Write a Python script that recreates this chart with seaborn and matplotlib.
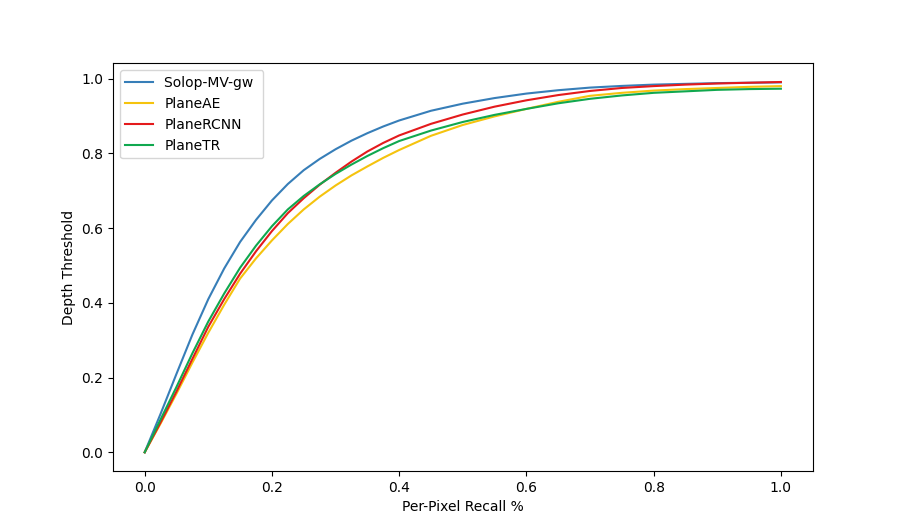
import pandas as pd
import seaborn as sns
from matplotlib import pyplot as plt

# finer steps up to 0.4 where the curves bend most
recall = [0.0, 0.025, 0.05, 0.075, 0.10, 0.125, 0.15, 0.175, 0.20, 0.225, 0.25,
          0.275, 0.30, 0.325, 0.35, 0.375, 0.40, 0.45, 0.50, 0.55, 0.60, 0.65,
          0.70, 0.75, 0.80, 0.85, 0.90, 0.95, 1.0]

solop = [0.0, 0.103, 0.210, 0.315, 0.410, 0.492, 0.563, 0.622, 0.674, 0.718, 0.755,
         0.785, 0.811, 0.834, 0.854, 0.872, 0.888, 0.914, 0.933, 0.948, 0.960, 0.969,
         0.976, 0.9805, 0.984, 0.986, 0.988, 0.989, 0.990]
planeae = [0.0, 0.077, 0.157, 0.240, 0.320, 0.395, 0.465, 0.519, 0.567, 0.611, 0.650,
           0.684, 0.714, 0.741, 0.765, 0.788, 0.809, 0.847, 0.876, 0.899, 0.919, 0.938,
           0.954, 0.962, 0.968, 0.972, 0.975, 0.978, 0.980]
planercnn = [0.0, 0.080, 0.163, 0.250, 0.336, 0.410, 0.478, 0.538, 0.592, 0.640, 0.680,
             0.716, 0.748, 0.778, 0.805, 0.828, 0.848, 0.879, 0.904, 0.925, 0.942, 0.956,
             0.967, 0.975, 0.980, 0.984, 0.987, 0.989, 0.991]
planetr = [0.0, 0.088, 0.175, 0.265, 0.350, 0.425, 0.494, 0.553, 0.605, 0.650, 0.686,
           0.717, 0.745, 0.770, 0.793, 0.814, 0.833, 0.861, 0.884, 0.903, 0.919, 0.934,
           0.946, 0.955, 0.962, 0.966, 0.970, 0.972, 0.973]

methods = ["Solop-MV-gw ", "PlaneAE", "PlaneRCNN", "PlaneTR"]
colors = ["#377eb8", "#f5c30e", "#e41a1c", "#10a84f"]

df = pd.DataFrame({"recall": recall, "Solop-MV-gw ": solop, "PlaneAE": planeae,
                   "PlaneRCNN": planercnn, "PlaneTR": planetr})

fig, ax = plt.subplots(figsize=(9.03, 5.29), dpi=100)
for m, c in zip(methods, colors):
    sns.lineplot(data=df, x="recall", y=m, color=c, label=m, ax=ax)

ax.set_xlabel("Per-Pixel Recall %")
ax.set_ylabel("Depth Threshold")
ax.legend(loc="upper left")
plt.savefig("out.png", dpi=100)
plt.close()
